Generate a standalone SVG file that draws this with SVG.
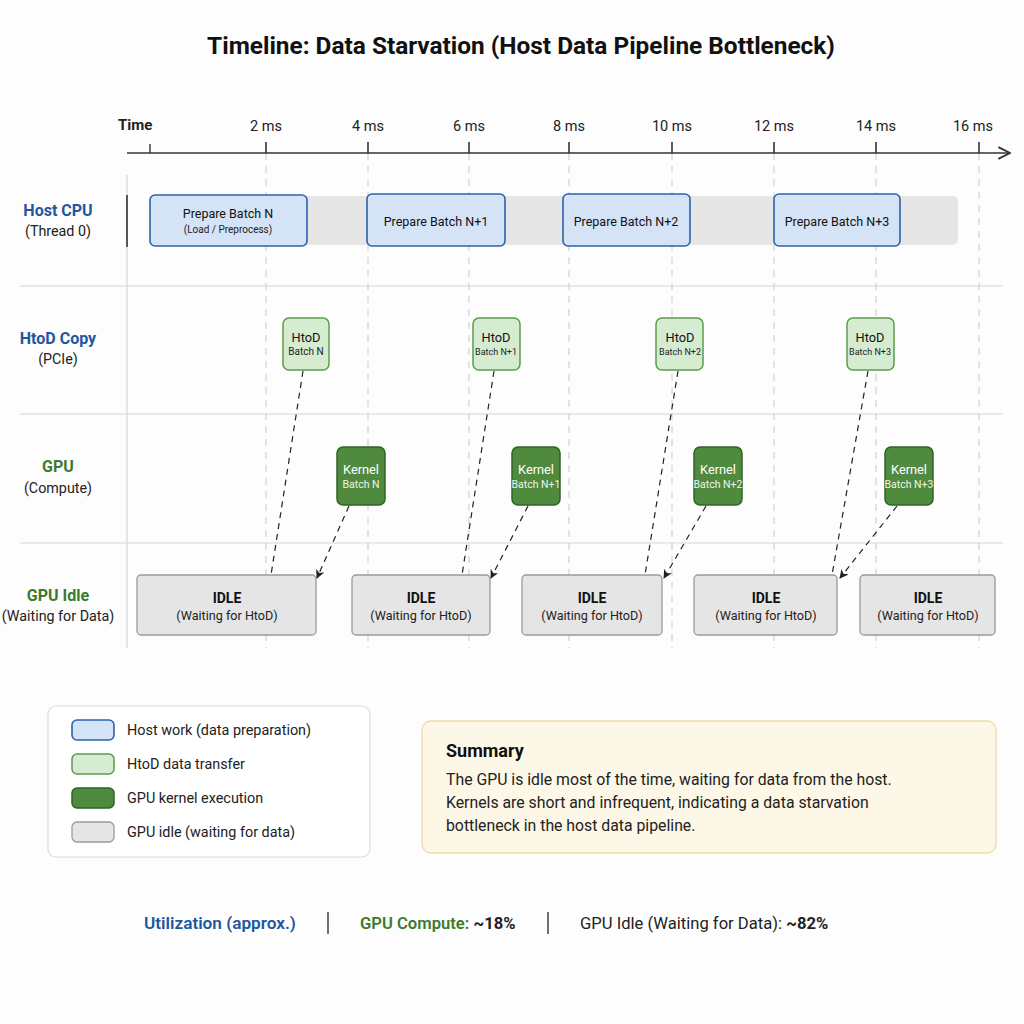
<svg xmlns="http://www.w3.org/2000/svg" width="1024" height="1024" viewBox="0 0 1024 1024">
<defs>
<style>
text{font-family:Roboto,"Liberation Sans",Arial,sans-serif;fill:#222}
.title{font-size:24.4px;font-weight:700;fill:#111}
.tick{font-size:14.5px;fill:#222}
.rowh{font-size:16px;font-weight:700}
.rows{font-size:14.3px;fill:#222}
.blue{fill:#1f56a0}
.green{fill:#3c7a2c}
.grid{stroke:#d6d6d6;stroke-width:1.2;fill:none}
.vdash{stroke:#d2d2d2;stroke-width:1.2;stroke-dasharray:7 6;fill:none}
.host{fill:#d5e3f6;stroke:#2c63ad;stroke-width:1.6}
.htod{fill:#d6ecd0;stroke:#5c9a4c;stroke-width:1.5}
.kern{fill:#4f8a3e;stroke:#2e6424;stroke-width:1.5}
.idle{fill:#e5e5e5;stroke:#9a9a9a;stroke-width:1.3}
.lbl{font-size:12.5px;text-anchor:middle;fill:#111}
.hlbl{font-size:12.8px;text-anchor:middle;fill:#111}
.sub{font-size:10px;text-anchor:middle;fill:#222}
.klbl{font-size:12.8px;text-anchor:middle;fill:#fff}
.ksub{font-size:10.5px;text-anchor:middle;fill:#eef5ea}
.ilbl{font-size:14px;font-weight:700;text-anchor:middle;fill:#111}
.isub{font-size:12.6px;text-anchor:middle;fill:#222}
.conn{stroke:#222;stroke-width:1.2;stroke-dasharray:6 5;fill:none}
.leg{font-size:14.4px;fill:#222}
.sum{font-size:15.8px;fill:#222}
.foot{font-size:16.6px}
</style>
<marker id="arr" viewBox="0 0 10 10" refX="9" refY="5" markerWidth="9" markerHeight="9" orient="auto-start-reverse" markerUnits="userSpaceOnUse">
<path d="M0,0 L10,5 L0,10 L3,5 Z" fill="#222"/>
</marker>
<marker id="axarr" viewBox="0 0 12 12" refX="11" refY="6" markerWidth="14" markerHeight="14" orient="auto" markerUnits="userSpaceOnUse">
<path d="M1,1 L11,6 L1,11" fill="none" stroke="#333" stroke-width="1.6"/>
</marker>
</defs>
<rect width="1024" height="1024" fill="#fdfdfd"/>

<text class="title" x="521" y="54" text-anchor="middle">Timeline: Data Starvation (Host Data Pipeline Bottleneck)</text>

<g id="grid">
<line class="grid" x1="20" y1="286" x2="1003" y2="286"/>
<line class="grid" x1="20" y1="414" x2="1003" y2="414"/>
<line class="grid" x1="20" y1="543" x2="1003" y2="543"/>
<line class="grid" x1="127" y1="175" x2="127" y2="648"/>
<line x1="127" y1="195" x2="127" y2="247" stroke="#333" stroke-width="1.6"/>
<line class="vdash" x1="266" y1="153" x2="266" y2="648"/>
<line class="vdash" x1="368" y1="153" x2="368" y2="648"/>
<line class="vdash" x1="469" y1="153" x2="469" y2="648"/>
<line class="vdash" x1="569" y1="153" x2="569" y2="648"/>
<line class="vdash" x1="672" y1="153" x2="672" y2="648"/>
<line class="vdash" x1="774" y1="153" x2="774" y2="648"/>
<line class="vdash" x1="876" y1="153" x2="876" y2="648"/>
<line class="vdash" x1="979" y1="153" x2="979" y2="648"/>
</g>

<g id="axis">
<line x1="127" y1="153" x2="1010" y2="153" stroke="#333" stroke-width="1.6" marker-end="url(#axarr)"/>
<line x1="150" y1="144" x2="150" y2="153" stroke="#333" stroke-width="1.4"/>
<g stroke="#333" stroke-width="1.6">
<line x1="266" y1="142" x2="266" y2="153"/>
<line x1="368" y1="142" x2="368" y2="153"/>
<line x1="469" y1="142" x2="469" y2="153"/>
<line x1="569" y1="142" x2="569" y2="153"/>
<line x1="672" y1="142" x2="672" y2="153"/>
<line x1="774" y1="142" x2="774" y2="153"/>
<line x1="876" y1="142" x2="876" y2="153"/>
<line x1="979" y1="142" x2="979" y2="153"/>
</g>
<text class="tick" x="118" y="130" style="font-weight:700;font-size:15px">Time</text>
<g text-anchor="middle">
<text class="tick" x="266" y="131">2 ms</text>
<text class="tick" x="368" y="131">4 ms</text>
<text class="tick" x="469" y="131">6 ms</text>
<text class="tick" x="569" y="131">8 ms</text>
<text class="tick" x="672" y="131">10 ms</text>
<text class="tick" x="774" y="131">12 ms</text>
<text class="tick" x="876" y="131">14 ms</text>
<text class="tick" x="973" y="131">16 ms</text>
</g>
</g>

<g id="row-labels" text-anchor="middle">
<text class="rowh blue" x="58" y="216">Host CPU</text>
<text class="rows" x="58" y="236">(Thread 0)</text>
<text class="rowh blue" x="58" y="344">HtoD Copy</text>
<text class="rows" x="58" y="364">(PCIe)</text>
<text class="rowh green" x="58" y="472">GPU</text>
<text class="rows" x="58" y="493">(Compute)</text>
<text class="rowh green" x="58" y="601">GPU Idle</text>
<text class="rows" x="58" y="621">(Waiting for Data)</text>
</g>

<rect id="host-bg" x="150" y="196" width="808" height="49" rx="5" fill="#e6e6e6"/>

<g id="host-n"><rect class="host" x="150" y="195" width="157" height="51" rx="5"/><text class="lbl" x="228" y="218">Prepare Batch N</text><text class="sub" x="228" y="233">(Load / Preprocess)</text></g>
<g id="host-n1"><rect class="host" x="367" y="194" width="138" height="52" rx="5"/><text class="lbl" x="436" y="226">Prepare Batch N+1</text></g>
<g id="host-n2"><rect class="host" x="563" y="194" width="127" height="52" rx="5"/><text class="lbl" x="626" y="226">Prepare Batch N+2</text></g>
<g id="host-n3"><rect class="host" x="774" y="194" width="126" height="52" rx="5"/><text class="lbl" x="837" y="226">Prepare Batch N+3</text></g>

<g id="htod-n"><rect class="htod" x="283" y="318" width="46" height="52" rx="6"/><text class="hlbl" x="306" y="342">HtoD</text><text class="sub" x="306" y="355">Batch N</text></g>
<g id="htod-n1"><rect class="htod" x="473" y="318" width="47" height="52" rx="6"/><text class="hlbl" x="496" y="342">HtoD</text><text class="sub" x="496" y="355" style="font-size:9px">Batch N+1</text></g>
<g id="htod-n2"><rect class="htod" x="656" y="318" width="47" height="52" rx="6"/><text class="hlbl" x="680" y="342">HtoD</text><text class="sub" x="680" y="355" style="font-size:9px">Batch N+2</text></g>
<g id="htod-n3"><rect class="htod" x="847" y="318" width="47" height="52" rx="6"/><text class="hlbl" x="870" y="342">HtoD</text><text class="sub" x="870" y="355" style="font-size:9px">Batch N+3</text></g>

<g id="kern-n"><rect class="kern" x="337" y="447" width="48" height="58" rx="6"/><text class="klbl" x="361" y="474">Kernel</text><text class="ksub" x="361" y="488">Batch N</text></g>
<g id="kern-n1"><rect class="kern" x="512" y="447" width="48" height="58" rx="6"/><text class="klbl" x="536" y="474">Kernel</text><text class="ksub" x="536" y="488">Batch N+1</text></g>
<g id="kern-n2"><rect class="kern" x="694" y="447" width="48" height="58" rx="6"/><text class="klbl" x="718" y="474">Kernel</text><text class="ksub" x="718" y="488">Batch N+2</text></g>
<g id="kern-n3"><rect class="kern" x="885" y="447" width="48" height="58" rx="6"/><text class="klbl" x="909" y="474">Kernel</text><text class="ksub" x="909" y="488">Batch N+3</text></g>

<g id="idle-1"><rect class="idle" x="137" y="575" width="179" height="60" rx="4"/><text class="ilbl" x="227" y="603">IDLE</text><text class="isub" x="227" y="620">(Waiting for HtoD)</text></g>
<g id="idle-2"><rect class="idle" x="352" y="575" width="138" height="60" rx="4"/><text class="ilbl" x="421" y="603">IDLE</text><text class="isub" x="421" y="620">(Waiting for HtoD)</text></g>
<g id="idle-3"><rect class="idle" x="522" y="575" width="140" height="60" rx="4"/><text class="ilbl" x="592" y="603">IDLE</text><text class="isub" x="592" y="620">(Waiting for HtoD)</text></g>
<g id="idle-4"><rect class="idle" x="694" y="575" width="143" height="60" rx="4"/><text class="ilbl" x="766" y="603">IDLE</text><text class="isub" x="766" y="620">(Waiting for HtoD)</text></g>
<g id="idle-5"><rect class="idle" x="860" y="575" width="135" height="60" rx="4"/><text class="ilbl" x="928" y="603">IDLE</text><text class="isub" x="928" y="620">(Waiting for HtoD)</text></g>

<g id="connectors">
<line class="conn" x1="303" y1="371" x2="271" y2="575"/>
<line class="conn" x1="349" y1="506" x2="317" y2="578" marker-end="url(#arr)"/>
<line class="conn" x1="494" y1="371" x2="462" y2="575"/>
<line class="conn" x1="528" y1="506" x2="491" y2="578" marker-end="url(#arr)"/>
<line class="conn" x1="678" y1="371" x2="645" y2="575"/>
<line class="conn" x1="706" y1="506" x2="664" y2="578" marker-end="url(#arr)"/>
<line class="conn" x1="868" y1="371" x2="832" y2="575"/>
<line class="conn" x1="897" y1="506" x2="840" y2="578" marker-end="url(#arr)"/>
</g>

<g id="legend">
<rect x="48" y="706" width="322" height="151" rx="8" fill="#fff" stroke="#dcdcdc" stroke-width="1.2"/>
<rect class="host" x="72" y="720" width="42" height="20" rx="5"/>
<text class="leg" x="127" y="735">Host work (data preparation)</text>
<rect class="htod" x="72" y="754" width="42" height="20" rx="5"/>
<text class="leg" x="127" y="769">HtoD data transfer</text>
<rect class="kern" x="72" y="788" width="42" height="20" rx="5"/>
<text class="leg" x="127" y="803">GPU kernel execution</text>
<rect class="idle" x="72" y="822" width="42" height="20" rx="5"/>
<text class="leg" x="127" y="837">GPU idle (waiting for data)</text>
</g>

<g id="summary">
<rect x="422" y="721" width="574" height="132" rx="9" fill="#fcf7e6" stroke="#efdca4" stroke-width="1.3"/>
<text x="446" y="757" style="font-size:18px;font-weight:700;fill:#111">Summary</text>
<text class="sum" x="446" y="785">The GPU is idle most of the time, waiting for data from the host.</text>
<text class="sum" x="446" y="808">Kernels are short and infrequent, indicating a data starvation</text>
<text class="sum" x="446" y="831">bottleneck in the host data pipeline.</text>
</g>

<g id="footer">
<text class="foot blue" x="144" y="929" style="font-weight:600;font-size:17.2px">Utilization (approx.)</text>
<line x1="328" y1="912" x2="328" y2="934" stroke="#333" stroke-width="1.4"/>
<text class="foot" x="360" y="929"><tspan class="green" style="font-weight:600">GPU Compute: </tspan><tspan style="font-weight:700;fill:#222">~18%</tspan></text>
<line x1="548" y1="912" x2="548" y2="934" stroke="#333" stroke-width="1.4"/>
<text class="foot" x="580" y="929" style="fill:#222">GPU Idle (Waiting for Data): <tspan style="font-weight:700">~82%</tspan></text>
</g>
</svg>
